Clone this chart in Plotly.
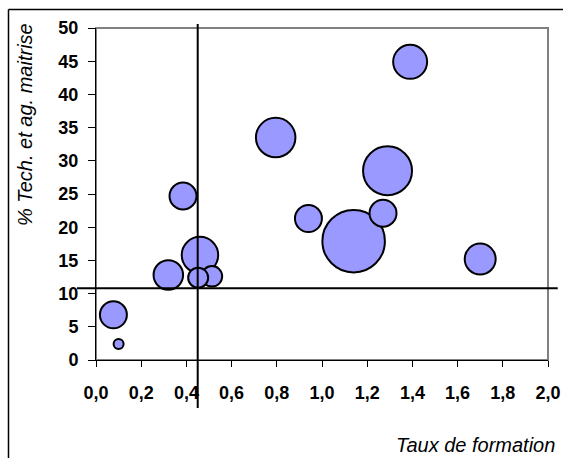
import numpy as np
import plotly.graph_objects as go

# Data
taux_formation = [0.077, 0.10, 0.32, 0.385, 0.46, 0.452, 0.513, 0.795, 0.94, 1.14, 1.27, 1.29, 1.39, 1.70]
pct_tech = [6.8, 2.4, 12.8, 24.7, 15.8, 12.4, 12.6, 33.5, 21.3, 17.9, 22.1, 28.5, 44.9, 15.2]
taille = [182, 25, 218, 182, 333, 100, 105, 390, 182, 977, 182, 600, 289, 240]

x_ticks = [0.0, 0.2, 0.4, 0.6, 0.8, 1.0, 1.2, 1.4, 1.6, 1.8, 2.0]
x_ticklabels = ["0,0", "0,2", "0,4", "0,6", "0,8", "1,0", "1,2", "1,4", "1,6", "1,8", "2,0"]
y_ticks = [0, 5, 10, 15, 20, 25, 30, 35, 40, 45, 50]

ref_x = 0.45   # moyenne taux de formation
ref_y = 10.8   # moyenne % tech.

order = np.argsort(taille)[::-1]
xs = np.array(taux_formation)[order]
ys = np.array(pct_tech)[order]
ss = np.array(taille)[order]

FONT = "Liberation Sans, Arial, sans-serif"

fig = go.Figure()
fig.add_trace(go.Scatter(
    x=xs, y=ys, mode="markers",
    marker=dict(size=ss, sizemode="area", sizeref=0.5, color="#9999FF",
                opacity=1, line=dict(color="black", width=2)),
    cliponaxis=False, hoverinfo="skip", showlegend=False,
))

fig.update_layout(
    width=563, height=458,
    margin=dict(l=96, r=15, t=28, b=98),
    paper_bgcolor="white", plot_bgcolor="white",
    font=dict(family=FONT, color="black"),
    showlegend=False,
    xaxis=dict(range=[0, 2], tickvals=x_ticks, ticktext=x_ticklabels, automargin=False,
               showgrid=False, zeroline=False, showline=True, linecolor="black", linewidth=1,
               ticks="outside", ticklen=6, tickcolor="black", tickwidth=1,
               tickfont=dict(family=FONT, size=18, color="black", weight="bold"),
               ticklabelstandoff=10),
    yaxis=dict(range=[0, 50], tickvals=y_ticks, automargin=False,
               showgrid=False, zeroline=False, showline=True, linecolor="black", linewidth=1,
               ticks="outside", ticklen=7, tickcolor="black", tickwidth=1,
               tickfont=dict(family=FONT, size=18, color="black", weight="bold"),
               ticklabelstandoff=6),
    shapes=[
        # outer chart frame
        dict(type="line", xref="paper", yref="paper", x0=-0.1936, x1=1.1, y0=1.0557, y1=1.0557,
             line=dict(color="black", width=1.5), layer="above"),
        dict(type="line", xref="paper", yref="paper", x0=-0.1936, x1=-0.1936, y0=1.0557, y1=-0.4,
             line=dict(color="black", width=1.5), layer="above"),
        # plot area border
        dict(type="rect", xref="paper", yref="paper", x0=0, x1=1, y0=0, y1=1,
             line=dict(color="#808080", width=2), layer="below"),
        # reference lines
        dict(type="line", xref="x", yref="paper", x0=ref_x, x1=ref_x, y0=1.012, y1=-0.1446,
             line=dict(color="black", width=2), layer="above"),
        dict(type="line", xref="paper", yref="y", x0=-0.042, x1=1.0215, y0=ref_y, y1=ref_y,
             line=dict(color="black", width=2), layer="above"),
    ],
    annotations=[
        dict(text="% Tech. et ag. maitrise", xref="paper", yref="paper", x=-0.157, y=0.708,
             xanchor="center", yanchor="middle", textangle=-90, showarrow=False,
             font=dict(family=FONT, size=20, color="black", style="italic")),
        dict(text="Taux de formation", xref="paper", yref="paper", x=1.02, y=-0.256,
             xanchor="right", yanchor="middle", showarrow=False,
             font=dict(family=FONT, size=20, color="black", style="italic")),
    ],
)

fig.write_html("out.html", config={"displayModeBar": False},
               post_script="document.body.style.margin='0';document.body.style.overflow='hidden';")
